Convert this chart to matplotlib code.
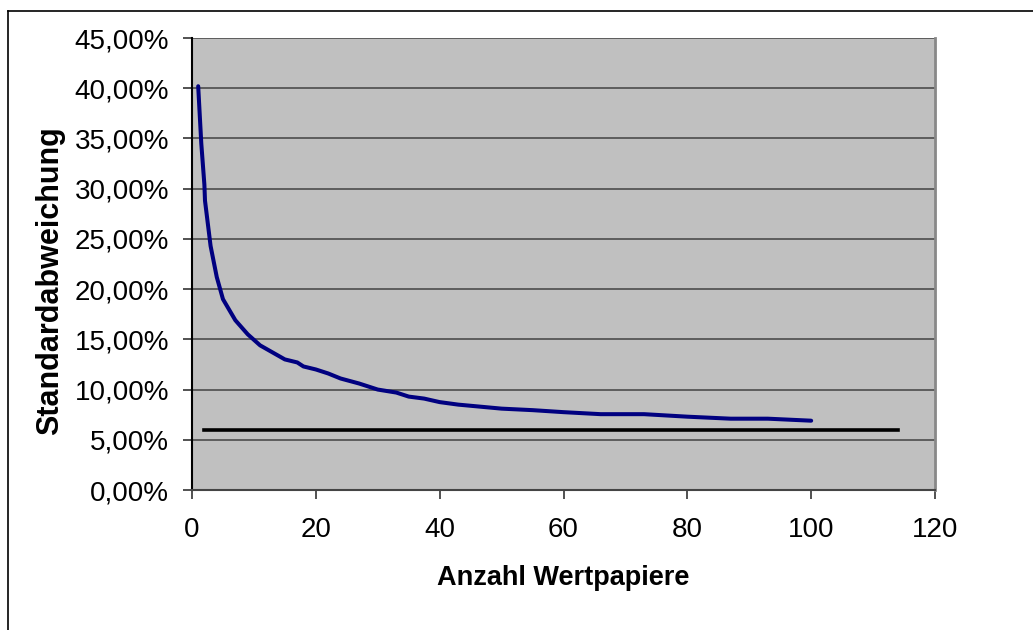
import numpy as np
import matplotlib
matplotlib.use('Agg')
import matplotlib.pyplot as plt
from matplotlib.lines import Line2D

plt.rcParams['font.family'] = ['Liberation Sans', 'DejaVu Sans']

# portfolio size vs. standard deviation (in %)
anzahl = [1, 1.5, 2, 2.1, 3, 4, 5, 7, 9, 11, 13, 15, 17, 18, 20, 22, 24, 27, 30,
          33, 35, 37.5, 40, 43, 46.5, 50, 55, 60, 66, 73, 80, 87, 93, 100]
std_abw = [40.2, 34.5, 30.4, 28.8, 24.3, 21.2, 19.0, 16.9, 15.5, 14.4, 13.7, 13.0,
           12.7, 12.3, 12.0, 11.6, 11.1, 10.6, 10.0, 9.7, 9.3, 9.1, 8.75,
           8.5, 8.3, 8.1, 7.95, 7.75, 7.55, 7.55, 7.3, 7.1, 7.1, 6.9]

# systematic risk level (horizontal line)
markt_x = [2, 114]
markt_y = [6.0, 6.0]

yticks = [0, 5, 10, 15, 20, 25, 30, 35, 40, 45]
xticks = [0, 20, 40, 60, 80, 100, 120]

fig = plt.figure(figsize=(10.33, 6.30), dpi=100)
ax = fig.add_axes([192/1033, 1 - 490/630, (935-192)/1033, (490-38)/630])
ax.set_facecolor('#C0C0C0')

for y in yticks[1:]:
    ax.axhline(y, color='#555555', lw=1.3, zorder=1)

ax.plot(anzahl, std_abw, color='#000080', lw=2.9, zorder=3,
        solid_joinstyle='round', solid_capstyle='round')
ax.plot(markt_x, markt_y, color='black', lw=2.6, zorder=3)

ax.set_xlim(0, 120)
ax.set_ylim(0, 45)
ax.set_xticks(xticks)
ax.set_yticks(yticks)
ax.set_xticklabels([str(t) for t in xticks])
ax.set_yticklabels([f'{t:.2f}%'.replace('.', ',') for t in yticks])
ax.tick_params(axis='both', labelsize=20, length=6.5, width=1.2, color='#333333')
ax.tick_params(axis='y', pad=10)
ax.tick_params(axis='x', pad=13)

ax.spines['top'].set_visible(False)
ax.spines['left'].set_color('black')
ax.spines['left'].set_linewidth(1.5)
ax.spines['bottom'].set_color('#444444')
ax.spines['bottom'].set_linewidth(1.5)
ax.spines['right'].set_color('#888888')
ax.spines['right'].set_linewidth(2)

fig.text(563/1033, 1 - 585/630, 'Anzahl Wertpapiere', fontsize=19.5,
         fontweight='bold', ha='center', va='baseline')
fig.text(50/1033, 1 - 281/630, 'Standardabweichung', fontsize=22,
         fontweight='bold', ha='center', va='center', rotation=90)

# chart frame
fig.add_artist(Line2D([8/1033, 8/1033], [0, 1 - 11/630], color='black', lw=1.2))
fig.add_artist(Line2D([8/1033, 1], [1 - 11/630, 1 - 11/630], color='black', lw=1.2))

fig.savefig('out.png', dpi=100)
